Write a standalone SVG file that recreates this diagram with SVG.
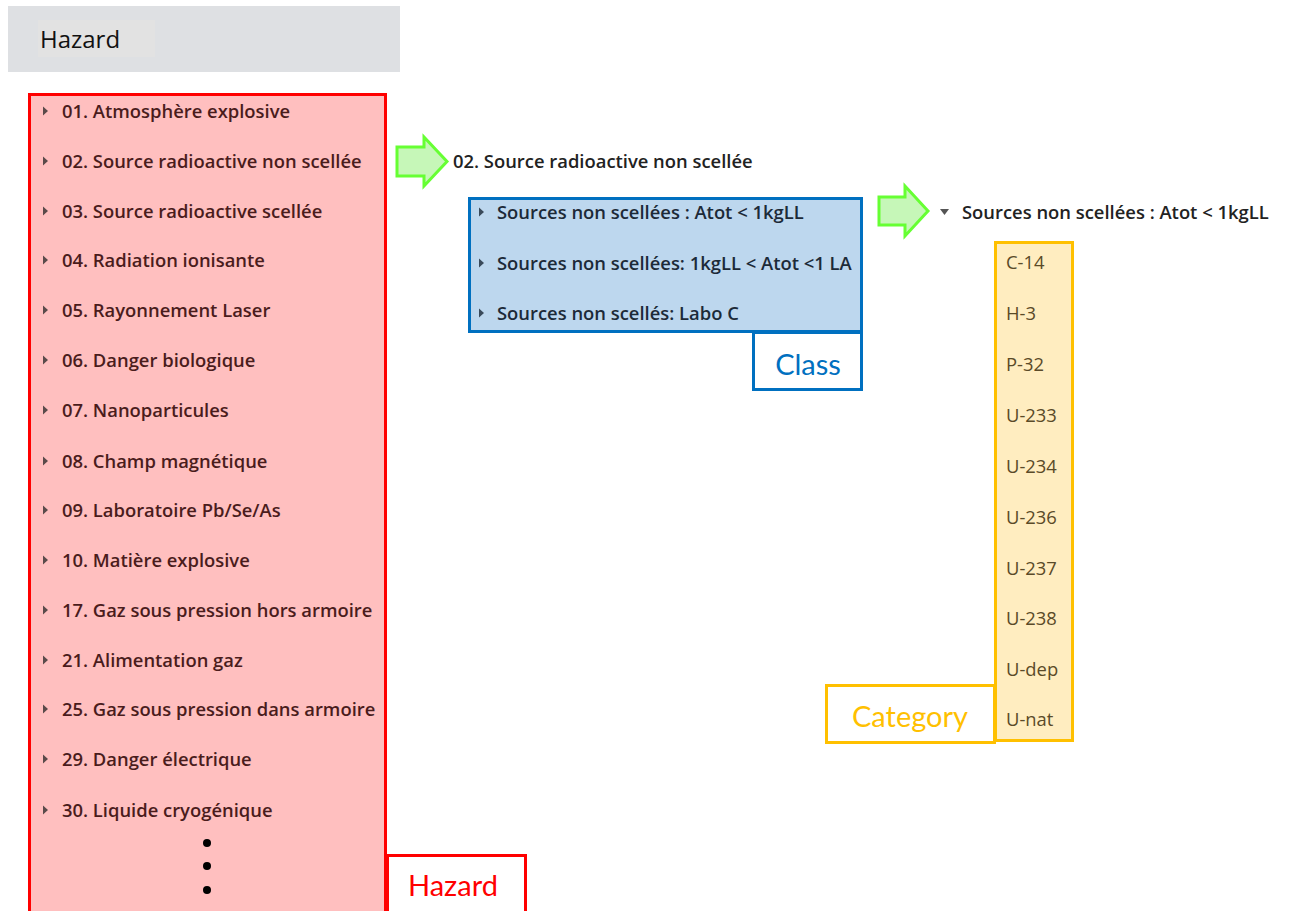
<svg xmlns="http://www.w3.org/2000/svg" width="1289" height="911" viewBox="0 0 1289 911">
<style>
.it{font-family:"Open Sans","Noto Sans",sans-serif;font-size:18.4px;font-weight:600;dominant-baseline:central}
.hz{fill:#4a1c1c}
.cl{fill:#1c2a38}
.ca{font-family:"Open Sans","Noto Sans",sans-serif;font-size:18.4px;fill:#5a4a28;dominant-baseline:central}
.lbl{font-family:"Lato","Open Sans",sans-serif;font-size:29px}
.tri{fill:#5a4a4a}
.arrow{fill:#c6f7b8;stroke:#66ff33;stroke-width:3;stroke-linejoin:miter}
</style>
<defs>
<path id="tr" d="M0,-4.500 L5,0 L0,4.500 Z"/>
</defs>
<rect width="1289" height="911" fill="#ffffff"/>
<g id="header">
<rect x="8" y="6" width="392" height="66" fill="#dee0e3"/>
<rect x="38" y="20" width="117" height="37" fill="#e2e2e2"/>
<text x="40" y="48" font-family="Open Sans, Noto Sans, sans-serif" font-size="24" fill="#111">Hazard</text>
</g>
<g id="hazard-list">
<rect x="29.500" y="94.500" width="356" height="830" fill="#ffbfbf" stroke="#ff0000" stroke-width="3"/>
<g class="tri">
<use href="#tr" x="43" y="111"/><use href="#tr" x="43" y="161"/><use href="#tr" x="43" y="211"/><use href="#tr" x="43" y="260"/><use href="#tr" x="43" y="310"/><use href="#tr" x="43" y="360"/><use href="#tr" x="43" y="410"/><use href="#tr" x="43" y="461"/><use href="#tr" x="43" y="510"/><use href="#tr" x="43" y="560"/><use href="#tr" x="43" y="610"/><use href="#tr" x="43" y="660"/><use href="#tr" x="43" y="709"/><use href="#tr" x="43" y="759"/><use href="#tr" x="43" y="810"/>
</g>
<text class="it hz" x="62" y="110">01. Atmosphère explosive</text>
<text class="it hz" x="62" y="160">02. Source radioactive non scellée</text>
<text class="it hz" x="62" y="210">03. Source radioactive scellée</text>
<text class="it hz" x="62" y="259">04. Radiation ionisante</text>
<text class="it hz" x="62" y="309">05. Rayonnement Laser</text>
<text class="it hz" x="62" y="359">06. Danger biologique</text>
<text class="it hz" x="62" y="409">07. Nanoparticules</text>
<text class="it hz" x="62" y="460">08. Champ magnétique</text>
<text class="it hz" x="62" y="509">09. Laboratoire Pb/Se/As</text>
<text class="it hz" x="62" y="559">10. Matière explosive</text>
<text class="it hz" x="62" y="609">17. Gaz sous pression hors armoire</text>
<text class="it hz" x="62" y="659">21. Alimentation gaz</text>
<text class="it hz" x="62" y="708">25. Gaz sous pression dans armoire</text>
<text class="it hz" x="62" y="758">29. Danger électrique</text>
<text class="it hz" x="62" y="809">30. Liquide cryogénique</text>
<circle cx="207" cy="843" r="4" fill="#000"/>
<circle cx="207" cy="866" r="4" fill="#000"/>
<circle cx="207" cy="890" r="4" fill="#000"/>
</g>
<g id="hazard-label">
<rect x="387.500" y="855.500" width="138" height="70" fill="#ffffff" stroke="#ff0000" stroke-width="3"/>
<text class="lbl" x="408" y="896" fill="#ff0000">Hazard</text>
</g>
<g id="connectors">
<path class="arrow" d="M397,147 L424,147 L424,137 L447,161.500 L424,186 L424,176 L397,176 Z"/>
<path class="arrow" d="M879,197 L905,197 L905,186 L928,211 L905,236 L905,225 L879,225 Z"/>
</g>
<g id="selected-hazard">
<text class="it" x="453" y="160" fill="#222">02. Source radioactive non scellée</text>
</g>
<g id="class-list">
<rect x="469.500" y="198.500" width="392" height="133" fill="#bdd7ee" stroke="#0070c0" stroke-width="3"/>
<g fill="#3a4a5a">
<use href="#tr" x="479" y="212"/><use href="#tr" x="479" y="263"/><use href="#tr" x="479" y="313"/>
</g>
<text class="it cl" x="497" y="211">Sources non scellées : Atot &lt; 1kgLL</text>
<text class="it cl" x="497" y="262">Sources non scellées: 1kgLL &lt; Atot &lt;1 LA</text>
<text class="it cl" x="497" y="312">Sources non scellés: Labo C</text>
</g>
<g id="class-label">
<rect x="753.500" y="332.500" width="108" height="57" fill="#ffffff" stroke="#0070c0" stroke-width="3"/>
<text class="lbl" x="808" y="375" fill="#0070c0" text-anchor="middle">Class</text>
</g>
<g id="selected-class">
<path d="M940,209 L949,209 L944.500,215 Z" fill="#555"/>
<text class="it" x="962" y="211" fill="#222">Sources non scellées : Atot &lt; 1kgLL</text>
</g>
<g id="category-list">
<rect x="995.500" y="242.500" width="77" height="498" fill="#ffedc0" stroke="#ffc000" stroke-width="3"/>
<text class="ca" x="1006" y="261">C-14</text>
<text class="ca" x="1006" y="312">H-3</text>
<text class="ca" x="1006" y="363">P-32</text>
<text class="ca" x="1006" y="414">U-233</text>
<text class="ca" x="1006" y="465">U-234</text>
<text class="ca" x="1006" y="516">U-236</text>
<text class="ca" x="1006" y="567">U-237</text>
<text class="ca" x="1006" y="617">U-238</text>
<text class="ca" x="1006" y="668">U-dep</text>
<text class="ca" x="1006" y="718">U-nat</text>
</g>
<g id="category-label">
<rect x="826.500" y="685.500" width="168" height="57" fill="#ffffff" stroke="#ffc000" stroke-width="3"/>
<text class="lbl" x="910" y="727" fill="#ffc000" text-anchor="middle">Category</text>
</g>
</svg>
